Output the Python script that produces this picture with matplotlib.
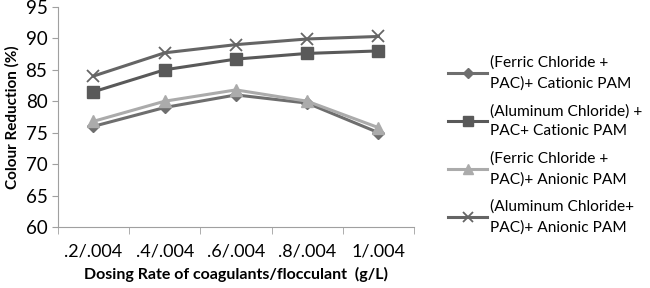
import matplotlib.pyplot as plt
import numpy as np

plt.rcParams['font.family'] = ['Lato', 'DejaVu Sans']

doses = ['.2/.004', '.4/.004', '.6/.004', '.8/.004', '1/.004']
ferric_cationic = [76.0, 79.0, 81.0, 79.7, 75.0]
alum_cationic = [81.5, 85.0, 86.7, 87.6, 88.0]
ferric_anionic = [76.8, 80.0, 81.8, 80.0, 75.8]
alum_anionic = [84.0, 87.7, 89.0, 89.9, 90.3]

labels = ['(Ferric Chloride +\nPAC)+ Cationic PAM',
          '(Aluminum Chloride) +\nPAC+ Cationic PAM',
          '(Ferric Chloride +\nPAC)+ Anionic PAM',
          '(Aluminum Chloride+\nPAC)+ Anionic PAM']

fig = plt.figure(figsize=(6.5, 2.88), dpi=100)
ax = fig.add_axes([0.089, 0.212, 0.548, 0.764])

x = np.arange(len(doses))
ax.plot(x, ferric_cationic, color='#6e6e6e', lw=2.2, marker='D', ms=6,
        label=labels[0])
ax.plot(x, alum_cationic, color='#595959', lw=2.2, marker='s', ms=8,
        label=labels[1])
ax.plot(x, ferric_anionic, color='#ababab', lw=2.2, marker='^', ms=8,
        label=labels[2])
ax.plot(x, alum_anionic, color='#656565', lw=2.2, marker='x', ms=9,
        mew=1.3, label=labels[3])

ax.set_xlim(-0.5, 4.5)
ax.set_ylim(60, 95)
ax.set_yticks(range(60, 96, 5))
ax.set_xticks(x)
ax.set_xticklabels(doses)
ax.set_xticks(np.arange(-0.5, 4.6, 1), minor=True)
ax.tick_params(axis='x', which='major', length=0, labelsize=13, pad=12)
ax.tick_params(axis='x', which='minor', length=5, color='#a0a0a0', direction='out')
ax.tick_params(axis='y', length=4, color='#a0a0a0', labelsize=13.5, direction='out')

for s in ['top', 'right']:
    ax.spines[s].set_visible(False)
for s in ['left', 'bottom']:
    ax.spines[s].set_color('#a0a0a0')

ax.set_ylabel('Colour Reduction (%)', fontsize=11, fontweight='bold', labelpad=4)
ax.set_xlabel('Dosing Rate of coagulants/flocculant  (g/L)', fontsize=11.5,
              fontweight='bold', labelpad=5)

leg = fig.legend(loc='upper left', bbox_to_anchor=(0.668, 0.855), frameon=False,
                 fontsize=11.2, handlelength=2.5, labelspacing=0.85,
                 handletextpad=0.2, markerscale=0.85)
for t in leg.get_texts():
    t.set_linespacing(1.55)

fig.savefig('out.png', dpi=100)
